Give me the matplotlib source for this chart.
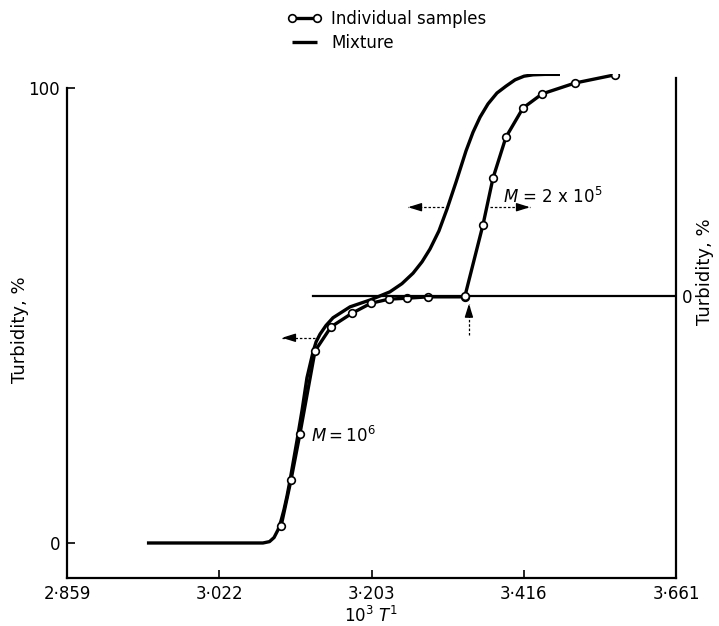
import matplotlib
matplotlib.use("Agg")
import matplotlib.pyplot as plt

# ---------------- data (x in tick-position units: 0..4 <-> labels) ----------------
xtick_labels = ["2·859", "3·022", "3·203", "3·416", "3·661"]
xtick_pos = [0, 1, 2, 3, 4]

# Mixture (left axis, turbidity %)
mix_x = [0.525, 1.287, 1.330, 1.360, 1.386, 1.405, 1.425, 1.445, 1.465, 1.511, 1.544,
         1.576, 1.616, 1.636, 1.662, 1.701, 1.747, 1.859, 1.990, 2.121, 2.200, 2.273,
         2.332, 2.384, 2.443, 2.496, 2.555, 2.621, 2.667, 2.713, 2.765, 2.824, 2.883,
         2.943, 3.002, 3.061, 3.140, 3.238]
mix_y = [0.0, 0.0, 0.3, 1.2, 2.9, 4.8, 7.3, 10.3, 13.8, 22.6, 29.2,
         36.3, 42.0, 44.2, 45.9, 47.8, 49.5, 51.9, 53.4, 55.2, 57.0, 59.3,
         61.8, 64.6, 68.6, 73.4, 79.3, 86.2, 90.3, 93.6, 96.5, 98.9, 100.4,
         101.8, 102.6, 102.9, 103.0, 103.0]

# Individual sample M = 10^6 (left axis)
m6_x = [1.406, 1.471, 1.530, 1.629, 1.734, 1.872, 1.997, 2.115, 2.233, 2.371, 2.614]
m6_y = [3.7, 13.8, 24.0, 42.2, 47.5, 50.5, 52.7, 53.6, 53.8, 54.1, 54.1]

# Individual sample M = 2x10^5 (right axis, zero offset)
m5_x = [2.614, 2.732, 2.798, 2.883, 2.995, 3.120, 3.337, 3.599]
m5_y = [0.0, 15.6, 25.9, 34.9, 41.3, 44.4, 46.8, 48.6]

right_zero_on_left = 54.3

# ---------------- figure ----------------
plt.rcParams['font.family'] = ['DejaVu Sans']
plt.rcParams['mathtext.fontset'] = 'dejavusans'
FS = 12

W, H = 719, 626
fig = plt.figure(figsize=(W / 100, H / 100), dpi=100)

def px(x, y):
    return x / W, 1 - y / H

ax = fig.add_axes([67 / W, 1 - 577.7 / H, (676 - 67) / W, (577.7 - 74) / H])
ylo, yhi = -7.63, 103.08
ax.set_xlim(0, 4)
ax.set_ylim(ylo, yhi)

ax2 = ax.twinx()
ax2.set_ylim(ylo - right_zero_on_left, yhi - right_zero_on_left)

for a in (ax, ax2):
    a.spines['top'].set_visible(False)
    for s in a.spines.values():
        s.set_linewidth(1.6)
ax.spines['right'].set_visible(False)
ax2.spines['left'].set_visible(False)
ax2.spines['bottom'].set_visible(False)
ax.spines['left'].set_bounds(ylo, 100)
ax2.spines['right'].set_bounds(ylo - right_zero_on_left, 102.2 - right_zero_on_left)

ax.set_xticks(xtick_pos)
ax.set_xticklabels(xtick_labels, fontsize=FS)
ax.set_yticks([0, 100])
ax.set_yticklabels(["0", "100"], fontsize=FS)
ax.tick_params(axis='both', direction='in', length=6, width=1.2, pad=5)
ax2.set_yticks([0])
ax2.set_yticklabels(["0"], fontsize=FS)
ax2.tick_params(axis='y', direction='in', length=0, pad=4)

lw_curve = 2.4
mix_line, = ax.plot(mix_x, mix_y, color='black', lw=lw_curve,
                    solid_joinstyle='round', solid_capstyle='butt')
ax2.plot([1.616, 4], [0, 0], color='black', lw=1.6)
ind_line, = ax.plot(m6_x, m6_y, '-o', color='black', lw=lw_curve, ms=5.5,
                    mfc='white', mec='black', mew=1.2, zorder=3)
ax2.plot(m5_x, m5_y, '-o', color='black', lw=lw_curve, ms=5.5,
         mfc='white', mec='black', mew=1.2, zorder=3)

# arrows (dotted shafts with solid heads)
def arrow(a, x0, x1, y0, y1):
    a.plot([x0, x1], [y0, y1], color='black', lw=0.9, ls=(0, (2, 1.5)))
    dx = (x1 - x0) * 0.25
    dy = (y1 - y0) * 0.25
    a.annotate('', xy=(x1, y1), xytext=(x1 - dx, y1 - dy),
               arrowprops=dict(arrowstyle='-|>,head_length=0.8,head_width=0.25',
                               color='black', lw=1.0, shrinkA=0, shrinkB=0))

arrow(ax, 1.629, 1.412, 45.1, 45.1)
arrow(ax, 2.502, 2.240, 73.8, 73.8)
arrow(ax, 2.778, 3.041, 73.8, 73.8)
arrow(ax, 2.640, 2.640, 45.7, 52.6)

ax.text(1.603, 23.5, r'$M = 10^6$', fontsize=FS, ha='left', va='center')
ax.text(2.864, 76.0, r'$M$ = 2 x 10$^5$', fontsize=FS, ha='left', va='center')

ax.set_xlabel(r'10$^3$ $T^1$', fontsize=FS, labelpad=2)

fig.text(*px(20, 330), 'Turbidity, %', rotation=90, fontsize=13,
         ha='center', va='center')
fig.text(*px(705, 272), 'Turbidity, %', rotation=90, fontsize=13,
         ha='center', va='center')

fig.legend([ind_line, mix_line], ['Individual samples', 'Mixture'],
           loc='upper left', bbox_to_anchor=px(287, 10), frameon=False,
           fontsize=FS, numpoints=2, handlelength=2.1, handletextpad=0.55,
           labelspacing=0.35, borderpad=0, borderaxespad=0)

fig.savefig('out.png', dpi=100)
